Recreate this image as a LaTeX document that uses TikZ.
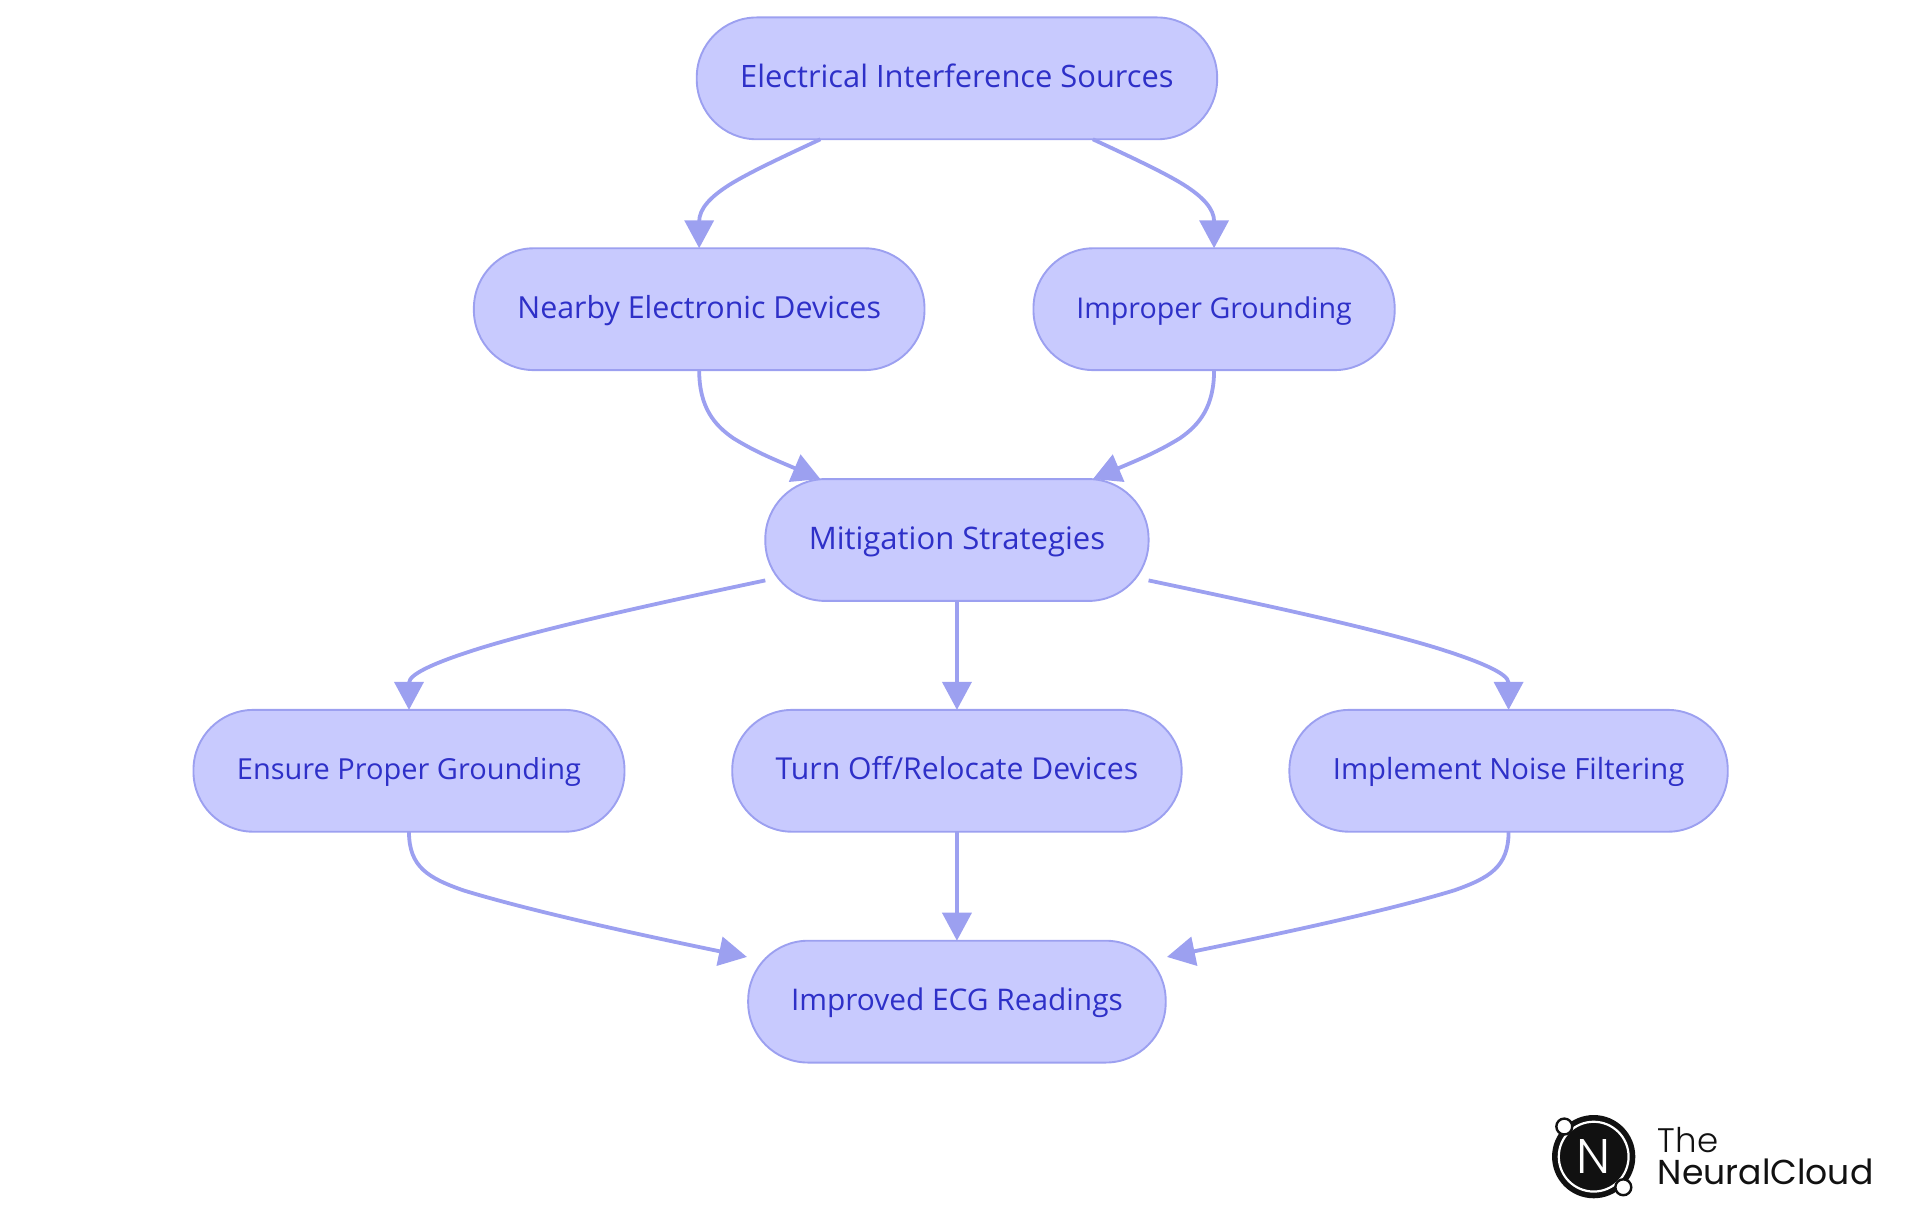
\documentclass[tikz,border=0pt]{standalone}
\usepackage{fontspec}
\usepackage{graphicx}
\setmainfont{Open Sans}
\newfontfamily\logofont{Poppins Light}
\newfontfamily\logobold{Poppins}
\usetikzlibrary{arrows.meta,calc}
\definecolor{boxfill}{HTML}{C8CAFE}
\definecolor{boxline}{HTML}{9CA0F0}
\definecolor{boxtext}{HTML}{2E30C8}
\definecolor{logoink}{HTML}{111111}
\newcommand\su{1.2245pt}
\newdimen\lblw
\newcommand\lbl[2]{\lblw=1.2245pt \lblw=#1\lblw \resizebox{\lblw}{!}{#2}}
\tikzset{
  flowbox/.style={draw=boxline,fill=boxfill,line width=1.9pt,rounded corners=49*\su,
    minimum width=#1*\su,minimum height=99.5*\su,inner sep=0pt,outer sep=0pt,
    text=boxtext,text height=22pt,text depth=4pt,align=center},
  edge/.style={draw=boxline,line width=3.8pt,-{Triangle[length=28pt,width=29pt,fill=boxline]}},
  logotext/.style={inner sep=0pt,outer sep=0pt,anchor=base west,text=logoink},
  orbit/.style={draw=logoink,fill=white,circle,line width=2.4pt,minimum size=13*\su,inner sep=0pt}
}
\begin{document}
\begin{tikzpicture}[x=1.2245pt,y=-1.2245pt]
\useasboundingbox (0,0) rectangle (1568,992.2);
\node[flowbox=425] (top) at (781.5,64) {\lbl{354}{\fontsize{20}{24}\selectfont Electrical Interference Sources}};
\node[flowbox=368] (nearby) at (571,252.5) {\lbl{297}{\fontsize{20}{24}\selectfont Nearby Electronic Devices}};
\node[flowbox=295] (improper) at (991.5,252.5) {\lbl{225}{\fontsize{20}{24}\selectfont Improper Grounding}};
\node[flowbox=313] (mitig) at (781.5,441) {\lbl{242}{\fontsize{20}{24}\selectfont Mitigation Strategies}};
\node[flowbox=352] (ensure) at (334,629.5) {\lbl{281}{\fontsize{20}{24}\selectfont Ensure Proper Grounding}};
\node[flowbox=367] (turn) at (781.5,629.5) {\lbl{296}{\fontsize{20}{24}\selectfont Turn Off/Relocate Devices}};
\node[flowbox=358] (implement) at (1232,629.5) {\lbl{287}{\fontsize{20}{24}\selectfont Implement Noise Filtering}};
\node[flowbox=341] (improved) at (781.5,818) {\lbl{271}{\fontsize{20}{24}\selectfont Improved ECG Readings}};

\draw[edge] ($(top.south)+(-111.5,0)$) .. controls +(-30,14) and +(16,-10) .. ++(-74,37) .. controls +(-16,10) and +(0,-32) .. (nearby.north);
\draw[edge] ($(top.south)+(111,0)$) .. controls +(30,14) and +(-16,-10) .. ++(74,37) .. controls +(16,10) and +(0,-32) .. (improper.north);
\draw[edge] (nearby.south) .. controls +(0,30) and +(-16,-11) .. ++(28,55.7) .. controls +(18,11) and +(-40,-17) .. ($(mitig.north)+(-111.5,0)$);
\draw[edge] (improper.south) .. controls +(0,30) and +(16,-11) .. ++(-28,55.7) .. controls +(-18,11) and +(40,-17) .. ($(mitig.north)+(111,0)$);
\draw[edge] ($(mitig.west)+(0,33)$) .. controls +(-90,19) and +(55,-17) .. ++(-233,55.4) .. controls +(-32,10) and +(0,-30) .. (ensure.north);
\draw[edge] (mitig.south) -- (turn.north);
\draw[edge] ($(mitig.east)+(0,33)$) .. controls +(90,19) and +(-55,-17) .. ++(236,55.4) .. controls +(32,10) and +(0,-30) .. (implement.north);
\draw[edge] (ensure.south) .. controls +(0,29) and +(-28,-10) .. ++(44,47.75) .. controls +(62,19) and +(-70,-14.5) .. ($(improved.west)+(-1,-36.5)$);
\draw[edge] (turn.south) -- (improved.north);
\draw[edge] (implement.south) .. controls +(0,29) and +(28,-10) .. ++(-44,47.75) .. controls +(-62,19) and +(70,-14.5) .. ($(improved.east)+(1,-36.5)$);

\fill[logoink] (1301.5,944.6) circle (34);
\draw[white,line width=2.2pt] (1301.5,944.6) circle (28.5);
\node[orbit] (orbita) at (1277.5,920) {};
\node[orbit] (orbitb) at (1325.7,969.6) {};
\node[inner sep=0pt,text=white,font=\logofont] (logon) at (1301.5,944.6) {\resizebox{34pt}{34pt}{N}};
\node[logotext,font=\logofont\fontsize{34}{34}\selectfont] (logothe) at (1354,941) {The};
\node[logotext,font=\logobold\fontsize{34}{34}\selectfont] (logoname) at (1354,967.2) {\lbl{176}{NeuralCloud}};
\end{tikzpicture}
\end{document}
